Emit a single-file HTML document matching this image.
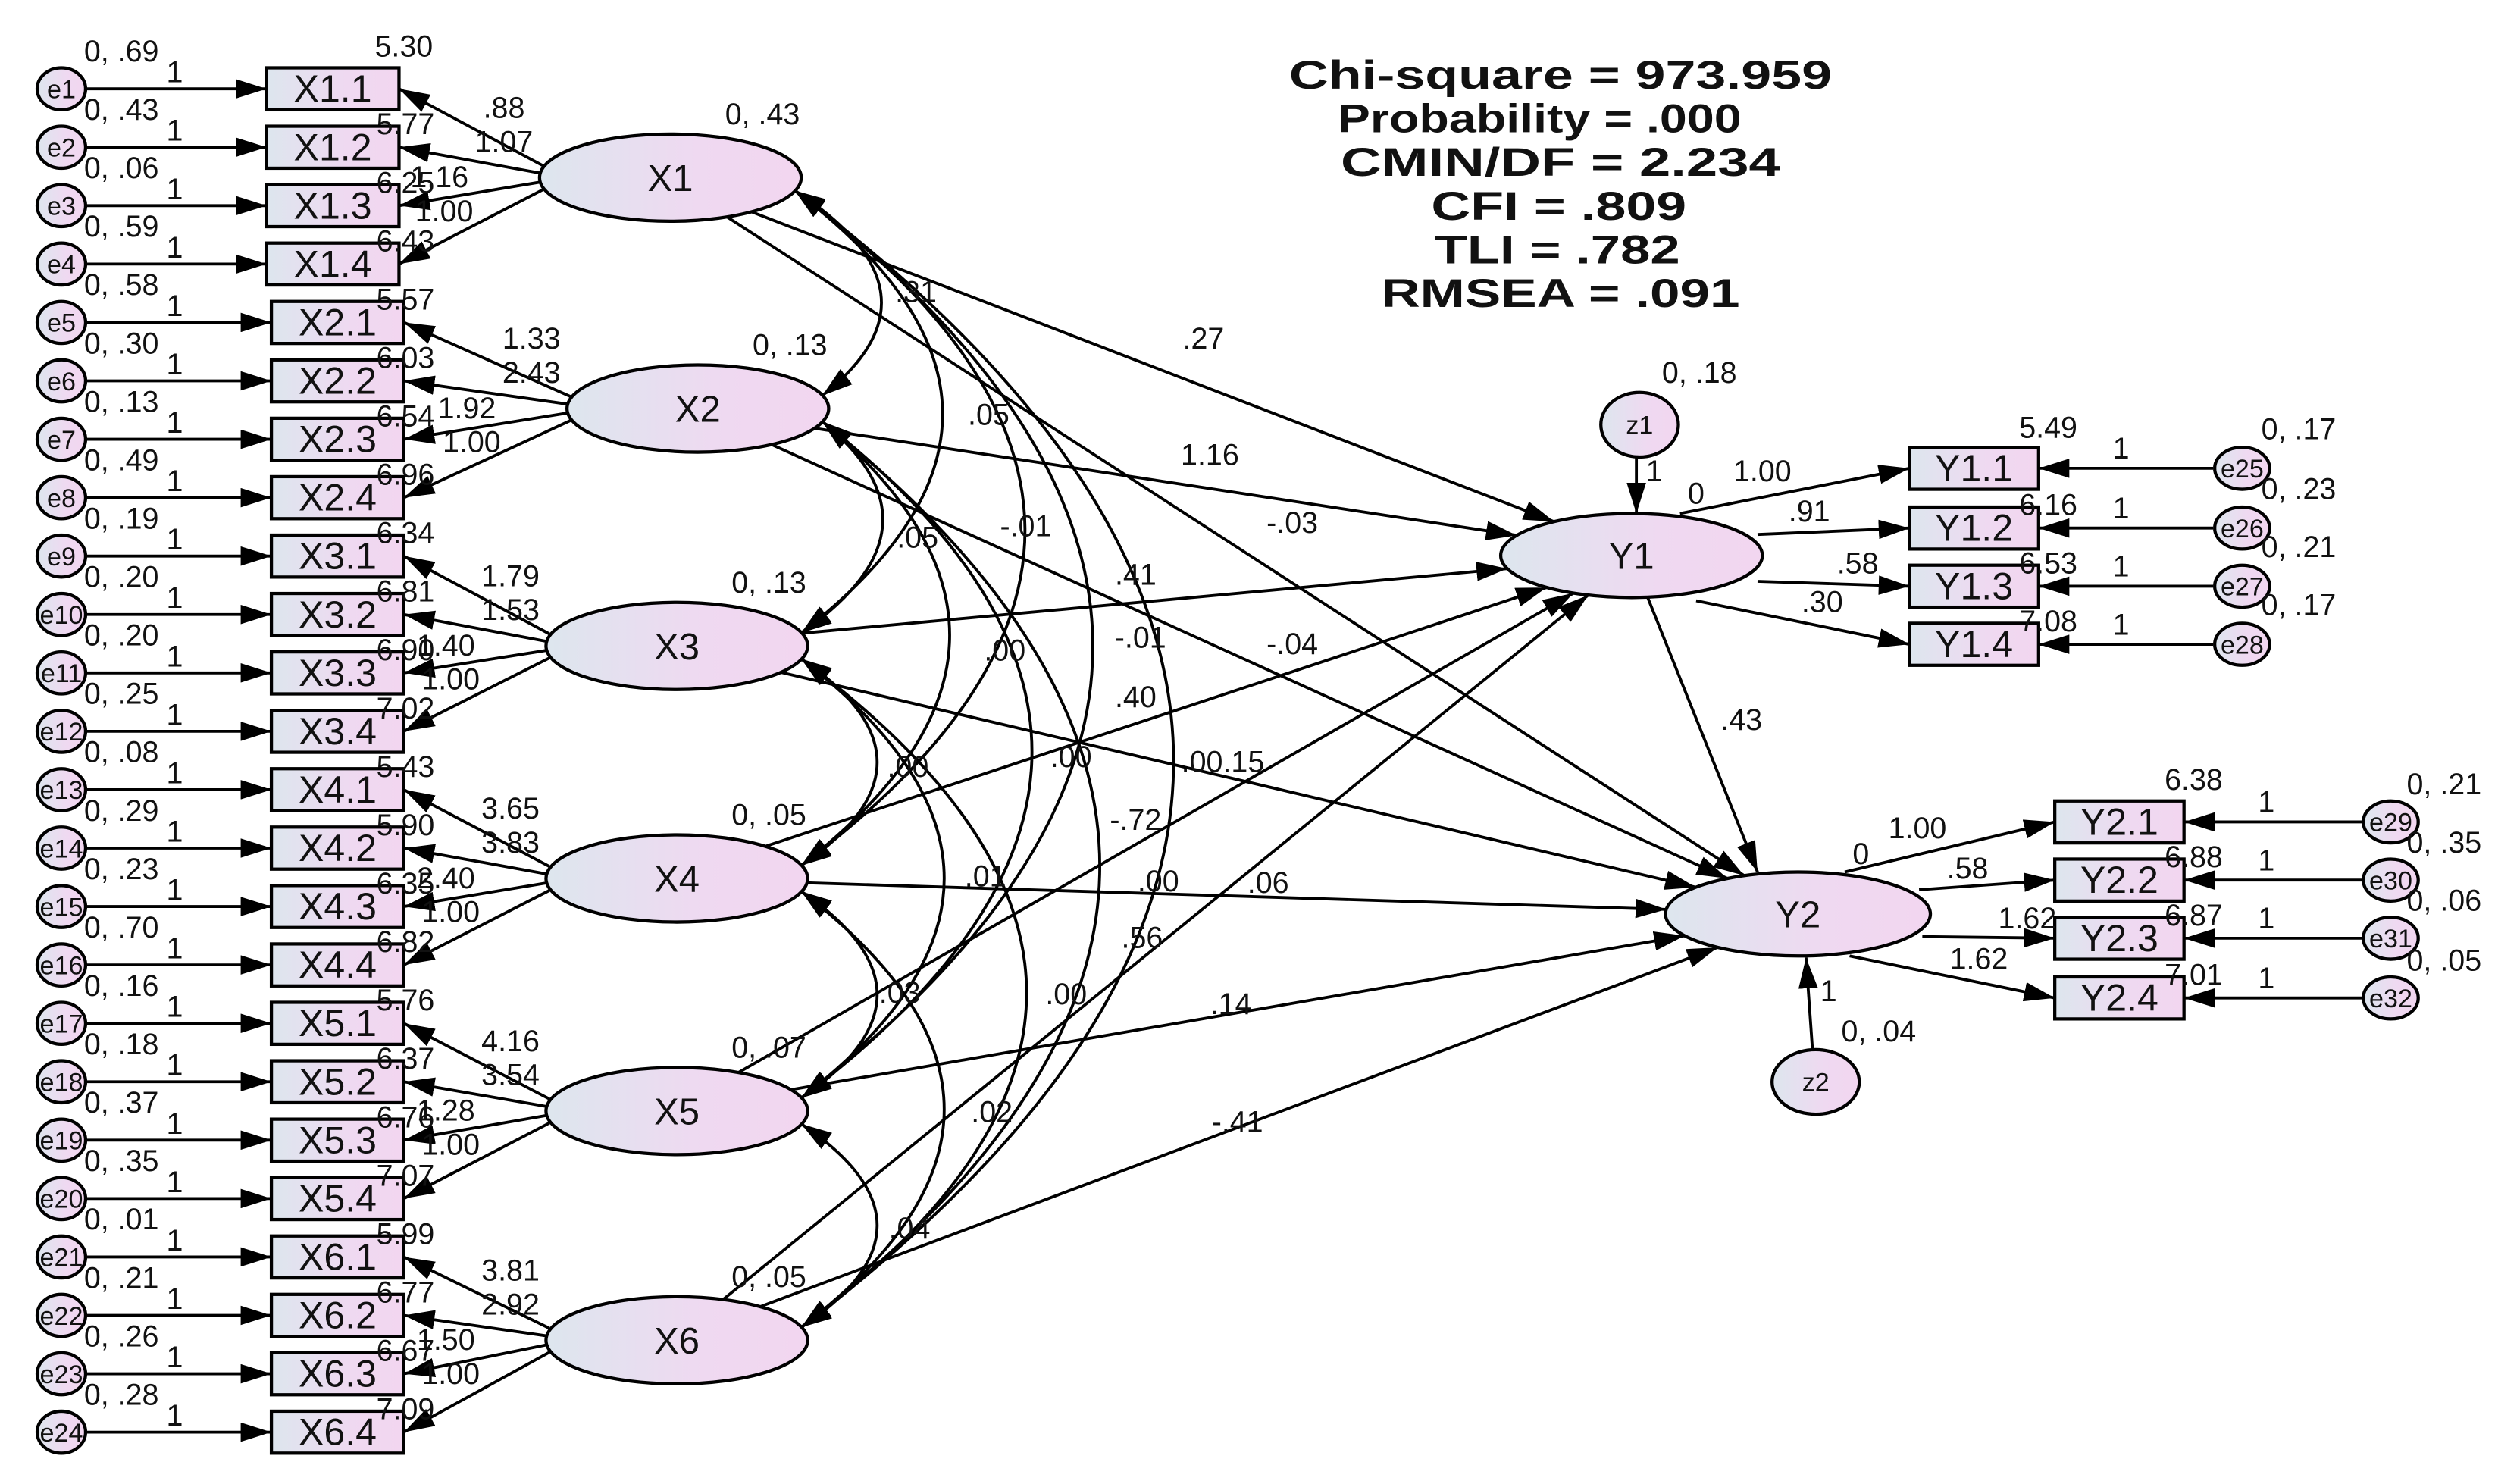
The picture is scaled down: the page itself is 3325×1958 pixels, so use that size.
<!DOCTYPE html>
<html><head><meta charset="utf-8">
<style>
html,body{margin:0;padding:0;background:#fff;}
svg{display:block;}
text{font-family:"Liberation Sans",Arial,sans-serif;fill:#111;}
</style></head>
<body>
<svg id="s" width="3325" height="1958" viewBox="0 0 1560 919" preserveAspectRatio="none" xmlns="http://www.w3.org/2000/svg">
<defs>
<linearGradient id="g" x1="0" y1="0" x2="1" y2="0">
<stop offset="0" stop-color="#dde6ee"/><stop offset="0.6" stop-color="#efd9f1"/><stop offset="1" stop-color="#f2d6f0"/>
</linearGradient>
<marker id="ah" viewBox="0 0 10 10" refX="10" refY="5" markerWidth="19" markerHeight="12" markerUnits="userSpaceOnUse" orient="auto-start-reverse" preserveAspectRatio="none">
<path d="M0,0 L10,5 L0,10 z" fill="#000"/>
</marker>
</defs>
<g id="lines" stroke="#000" fill="none" stroke-width="1.8"></g>
<g id="shapes"></g>
<g id="labels"></g>
<g font-weight="bold" font-size="25" text-anchor="middle">
<text x="966" y="55" textLength="336" lengthAdjust="spacingAndGlyphs">Chi-square = 973.959</text>
<text x="953" y="82" textLength="250" lengthAdjust="spacingAndGlyphs">Probability = .000</text>
<text x="966" y="109" textLength="272" lengthAdjust="spacingAndGlyphs">CMIN/DF  = 2.234</text>
<text x="965" y="136" textLength="158" lengthAdjust="spacingAndGlyphs">CFI = .809</text>
<text x="964" y="163" textLength="152" lengthAdjust="spacingAndGlyphs">TLI = .782</text>
<text x="966" y="190" textLength="222" lengthAdjust="spacingAndGlyphs">RMSEA = .091</text>
</g>
</svg>
<script>
var NS="http://www.w3.org/2000/svg";
var FS=18.5;
var L=document.getElementById('lines'),S=document.getElementById('shapes'),T=document.getElementById('labels');
function el(p,tag,a,txt){var e=document.createElementNS(NS,tag);for(var k in a)e.setAttribute(k,a[k]);if(txt!==undefined)e.textContent=txt;p.appendChild(e);return e;}
function txt(x,y,s,fs,anchor){el(T,'text',{x:x,y:y,'font-size':fs||FS,'text-anchor':anchor||'start'},s);}
function line(x1,y1,x2,y2,both){var a={x1:x1,y1:y1,x2:x2,y2:y2,'marker-end':'url(#ah)'};if(both)a['marker-start']='url(#ah)';el(L,'line',a);}
function ell(cx,cy,rx,ry,label,fs){el(S,'ellipse',{cx:cx,cy:cy,rx:rx,ry:ry,fill:'url(#g)',stroke:'#000','stroke-width':2});if(label)el(S,'text',{x:cx,y:cy+fs*0.36,'font-size':fs,'text-anchor':'middle'},label);}
function box(x,y,w,h,label){el(S,'rect',{x:x,y:y,width:w,height:h,fill:'url(#g)',stroke:'#000','stroke-width':2});el(S,'text',{x:x+w/2,y:y+h/2+8,'font-size':23.5,'text-anchor':'middle'},label);}
function ep(c,tx,ty){var dx=tx-c[0],dy=ty-c[1];var t=1/Math.sqrt(dx*dx/(c[2]*c[2])+dy*dy/(c[3]*c[3]));return [c[0]+dx*t,c[1]+dy*t];}

var ev=['.69','.43','.06','.59','.58','.30','.13','.49','.19','.20','.20','.25','.08','.29','.23','.70','.16','.18','.37','.35','.01','.21','.26','.28'];
var ic=['5.30','5.77','6.25','6.43','5.57','6.03','6.54','6.96','6.34','6.81','6.90','7.02','5.43','5.90','6.35','6.82','5.76','6.37','6.76','7.07','5.99','6.77','6.67','7.09'];
var lat=[[415,110],[432,253],[419,400],[419,544],[419,688],[419,830]];
var loads=[['.88','1.07','1.16','1.00'],['1.33','2.43','1.92','1.00'],['1.79','1.53','1.40','1.00'],['3.65','3.83','2.40','1.00'],['4.16','3.54','1.28','1.00'],['3.81','2.92','1.50','1.00']];
var lv=['0, .43','0, .13','0, .13','0, .05','0, .07','0, .05'];
var ys=[];for(var i=0;i<24;i++)ys.push(55+i*36.17);
var LAT=[];
for(var g=0;g<6;g++){LAT.push([lat[g][0],lat[g][1],81,27]);}
for(var i=0;i<24;i++){
 var y=ys[i],g=Math.floor(i/4),k=i%4;
 var bx=i<4?165:168,bw=82;
 line(53,y,bx,y);
 ell(38,y,15,13,'e'+(i+1),16);
 box(bx,y-13,bw,26,'X'+(g+1)+'.'+(k+1));
 txt(52,y-17,'0, '+ev[i]);
 txt(103,y-4,'1');
 txt(i==0?232:233,y-(i==0?20:8),ic[i]);
 var c=LAT[g];
 var s=[c[0]-79,c[1]+(k-1.5)*5];
 line(s[0],s[1],bx+bw,y);
}
var off=[[-103,-43],[-103,-22],[-143,0],[-140,21]];
for(var g=0;g<6;g++){for(var k=0;k<4;k++)txt(lat[g][0]+off[k][0],lat[g][1]+off[k][1]+6,loads[g][k],FS,'middle');
 txt(lat[g][0]+57,lat[g][1]-33,lv[g],FS,'middle');}

var Y1=[1010,344,81,26],Y2=[1113,566,82,26];
for(var g=0;g<6;g++){var c=LAT[g];
 [Y1,Y2].forEach(function(Y){var a=ep(c,Y[0]-40,Y[1]);var b=ep(Y,c[0]+60,c[1]);line(a[0],a[1],b[0],b[1]);});
}
var ctrl=[0,590,673,775,859,959];
for(var i=0;i<6;i++)for(var j=i+1;j<6;j++){
 var a=LAT[i],b=LAT[j],d=j-i;
 var p1=[a[0]+a[2]-4,a[1]+8],p2=[b[0]+b[2]-4,b[1]-8];
 var cy=(p1[1]+p2[1])/2;
 el(L,'path',{d:'M'+p1[0]+','+p1[1]+' Q'+ctrl[d]+','+cy+' '+p2[0]+','+p2[1],'marker-start':'url(#ah)','marker-end':'url(#ah)'});
}
var cl=[['.31',567,187],['.05',612,263],['.05',568,339],['-.01',635,332],['.00',622,409],['-.01',706,401],['.00',562,481],['.00',663,475],['.03',557,621],['.00',660,622],['.02',614,695],['.04',563,767],
['.27',745,216],['1.16',749,288],['-.03',800,330],['.41',703,362],['-.04',800,405],['.40',703,438],['.00.15',757,478],['-.72',703,514],['.01',610,549],['.00',717,552],['.06',785,553],['.56',707,587],['.14',762,628],['-.41',766,701]];
cl.forEach(function(c){txt(c[1],c[2],c[0],FS,'middle');});

line(1020,370,1088,540);txt(1078,452,'.43',FS,'middle');
line(1013,283,1013,318);
line(1122,650,1118,593);
ell(1015,263,24,20,'z1',16);
ell(1124,670,27,20,'z2',16);
txt(1052,237,'0, .18',FS,'middle');txt(1024,298,'1',FS,'middle');
txt(1163,645,'0, .04',FS,'middle');txt(1132,620,'1',FS,'middle');

var y1y=[290,327,363,399],y2y=[509,545,581,618];
var y1v=['.17','.23','.21','.17'],y2v=['.21','.35','.06','.05'];
var y1i=['5.49','6.16','6.53','7.08'],y2i=['6.38','6.88','6.87','7.01'];
var y1s=[[1040,318],[1088,331],[1088,360],[1050,372]];
var y2s=[[1142,540],[1188,551],[1190,580],[1145,592]];
for(var k=0;k<4;k++){
 var y=y1y[k];
 line(y1s[k][0],y1s[k][1],1182,y);
 line(1370,y,1262,y);
 box(1182,y-13,80,26,'Y1.'+(k+1));
 ell(1388,y,17,13,'e'+(25+k),16);
 txt(1313,y-6,'1',FS,'middle');
 txt(1423,y-18,'0, '+y1v[k],FS,'middle');
 txt(1268,y-(k==0?19:8),y1i[k],FS,'middle');
 y=y2y[k];
 line(y2s[k][0],y2s[k][1],1272,y);
 line(1462,y,1352,y);
 box(1272,y-13,80,26,'Y2.'+(k+1));
 ell(1480,y,17,13,'e'+(29+k),16);
 txt(1403,y-6,'1',FS,'middle');
 txt(1513,y-17,'0, '+y2v[k],FS,'middle');
 txt(1358,y-(k==0?20:8),y2i[k],FS,'middle');
}
ell(Y1[0],Y1[1],Y1[2],Y1[3],'Y1',23);
ell(Y2[0],Y2[1],Y2[2],Y2[3],'Y2',23);
for(var g=0;g<6;g++)ell(lat[g][0],lat[g][1],81,27,'X'+(g+1),23);
[['1.00',1091,298],['.91',1120,323],['.58',1150,355],['.30',1128,379],['0',1050,312],['1.00',1187,519],['.58',1218,544],['1.62',1255,575],['1.62',1225,600],['0',1152,535]].forEach(function(c){txt(c[1],c[2],c[0],FS,'middle');});
</script>
</body></html>
